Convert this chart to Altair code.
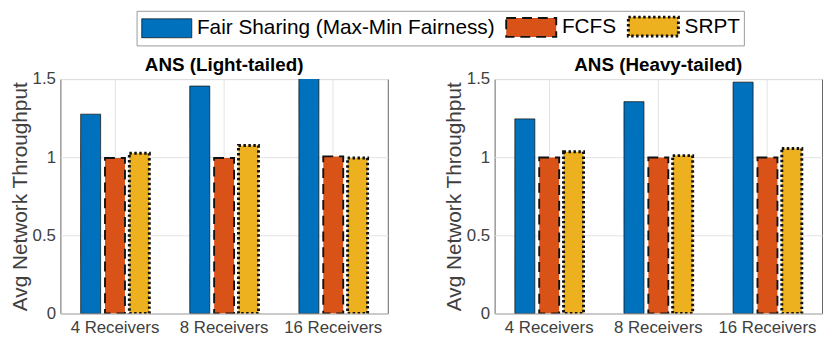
import altair as alt
import pandas as pd

categories = ["4 Receivers", "8 Receivers", "16 Receivers"]
series = ["Fair Sharing (Max-Min Fairness)", "FCFS", "SRPT"]
panels = ["ANS (Light-tailed)", "ANS (Heavy-tailed)"]

light_fair = [1.275, 1.455, 1.60]
light_fcfs = [0.995, 0.995, 1.005]
light_srpt = [1.025, 1.075, 0.995]

heavy_fair = [1.245, 1.355, 1.48]
heavy_fcfs = [0.998, 0.998, 0.998]
heavy_srpt = [1.035, 1.01, 1.055]

fills = ["#0072BD", "#D95319", "#EDB120"]
dashes = [[1, 0], [10, 6], [2.5, 2.5]]
widths = [0.8, 3, 3]

FONT = "Liberation Sans"
TXT = "#404040"


def make_df(vals):
    rows = []
    for s, arr in zip(series, vals):
        for c, v in zip(categories, arr):
            rows.append({"category": c, "series": s, "value": v})
    return pd.DataFrame(rows)


def leg():
    return alt.Legend(
        title=None,
        orient="none",
        legendX=77,
        legendY=-69,
        direction="horizontal",
        symbolType="M-2.3,-0.87H2.3V0.87H-2.3Z",
        symbolSize=484,
        symbolOffset=16,
        labelFontSize=21,
        labelFont=FONT,
        labelColor="black",
        labelLimit=500,
        labelOffset=19,
        columnPadding=6,
        padding=3,
        strokeColor="#9a9a9a",
        fillColor="white",
        symbolOpacity=1,
    )


def panel(title, vals):
    df = make_df(vals)
    return (
        alt.Chart(df, title=alt.Title(title, fontSize=19, fontWeight="bold", font=FONT,
                                      color="black", offset=-5, frame="group"))
        .mark_bar(clip=True, strokeOpacity=1, opacity=1)
        .encode(
            x=alt.X("category:N", sort=categories,
                    scale=alt.Scale(paddingInner=0, paddingOuter=0),
                    axis=alt.Axis(title=None, labelAngle=0, grid=True, bandPosition=0.5,
                                  ticks=False, domain=False, labelFontSize=17,
                                  labelFont=FONT, labelColor=TXT, labelPadding=6,
                                  gridColor="#e3e3e3")),
            xOffset=alt.XOffset("series:N", sort=series,
                                scale=alt.Scale(paddingInner=0.18, paddingOuter=0.83)),
            y=alt.Y("value:Q", scale=alt.Scale(domain=[0, 1.5], nice=False),
                    axis=alt.Axis(values=[0, 0.5, 1, 1.5], format="~g",
                                  title="Avg Network Throughput", titleFontSize=21,
                                  titleFont=FONT, titleFontWeight="normal", titleColor=TXT,
                                  titlePadding=2, labelFontSize=17, labelFont=FONT,
                                  labelColor=TXT, labelPadding=5, ticks=False,
                                  domain=False, gridColor="#e3e3e3")),
            fill=alt.Fill("series:N", sort=series,
                          scale=alt.Scale(domain=series, range=fills), legend=leg()),
            strokeDash=alt.StrokeDash("series:N", sort=series,
                                      scale=alt.Scale(domain=series, range=dashes),
                                      legend=leg()),
            strokeWidth=alt.StrokeWidth("series:N", sort=series,
                                        scale=alt.Scale(domain=series, range=widths),
                                        legend=leg()),
            stroke=alt.value("#111111"),
        )
        .properties(width=331, height=237)
    )


chart = (
    alt.hconcat(panel(panels[0], [light_fair, light_fcfs, light_srpt]),
                panel(panels[1], [heavy_fair, heavy_fcfs, heavy_srpt]),
                spacing=54)
    .resolve_scale(x="independent", y="independent")
    .properties(padding=0)
    .configure_view(stroke="#666666", strokeWidth=1)
)

chart.save("out.html", embed_options={"renderer": "svg", "actions": False})
